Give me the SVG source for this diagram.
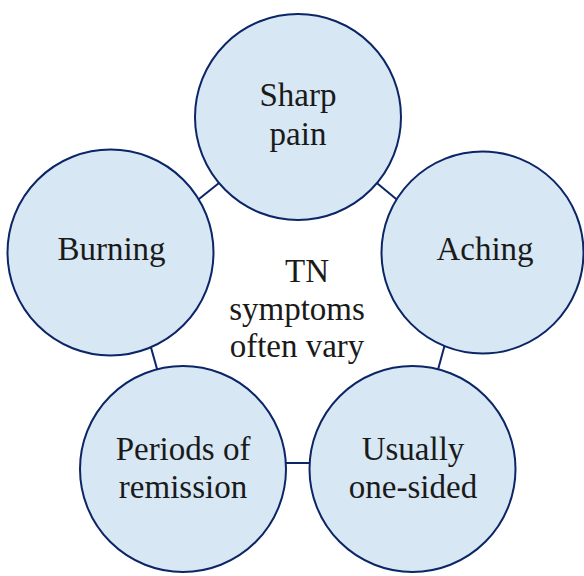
<svg xmlns="http://www.w3.org/2000/svg" width="584" height="576" viewBox="0 0 584 576">
<style>
.n{fill:#d7e7f4;stroke:#0b2566;stroke-width:2}
.c{stroke:#0b2566;stroke-width:2;fill:none}
text{font-family:"Liberation Serif","Times New Roman",serif;font-size:33px;fill:#1a1a1a;text-anchor:middle}
</style>
<rect width="584" height="576" fill="#ffffff"/>
<g id="connectors">
<line class="c" x1="194" y1="203" x2="224" y2="179"/>
<line class="c" x1="372" y1="179" x2="401" y2="203"/>
<line class="c" x1="150" y1="344" x2="159" y2="376"/>
<line class="c" x1="445" y1="344" x2="436" y2="377"/>
<line class="c" x1="280" y1="463" x2="317" y2="463"/>
</g>
<g id="center">
<text x="307" y="282">TN</text>
<text x="297" y="320">symptoms</text>
<text x="297" y="357">often vary</text>
</g>
<g id="sharp-pain">
<circle class="n" cx="298" cy="117" r="103"/>
<text x="298" y="106">Sharp</text>
<text x="298" y="145">pain</text>
</g>
<g id="burning">
<circle class="n" cx="110.5" cy="252.5" r="103"/>
<text x="111.5" y="260">Burning</text>
</g>
<g id="aching">
<circle class="n" cx="482.5" cy="252.5" r="101"/>
<text x="485" y="260">Aching</text>
</g>
<g id="periods">
<circle class="n" cx="183" cy="469" r="103"/>
<text x="183" y="460">Periods of</text>
<text x="183" y="498">remission</text>
</g>
<g id="usually">
<circle class="n" cx="412.5" cy="469" r="103"/>
<text x="413" y="460">Usually</text>
<text x="413" y="498">one-sided</text>
</g>
</svg>
